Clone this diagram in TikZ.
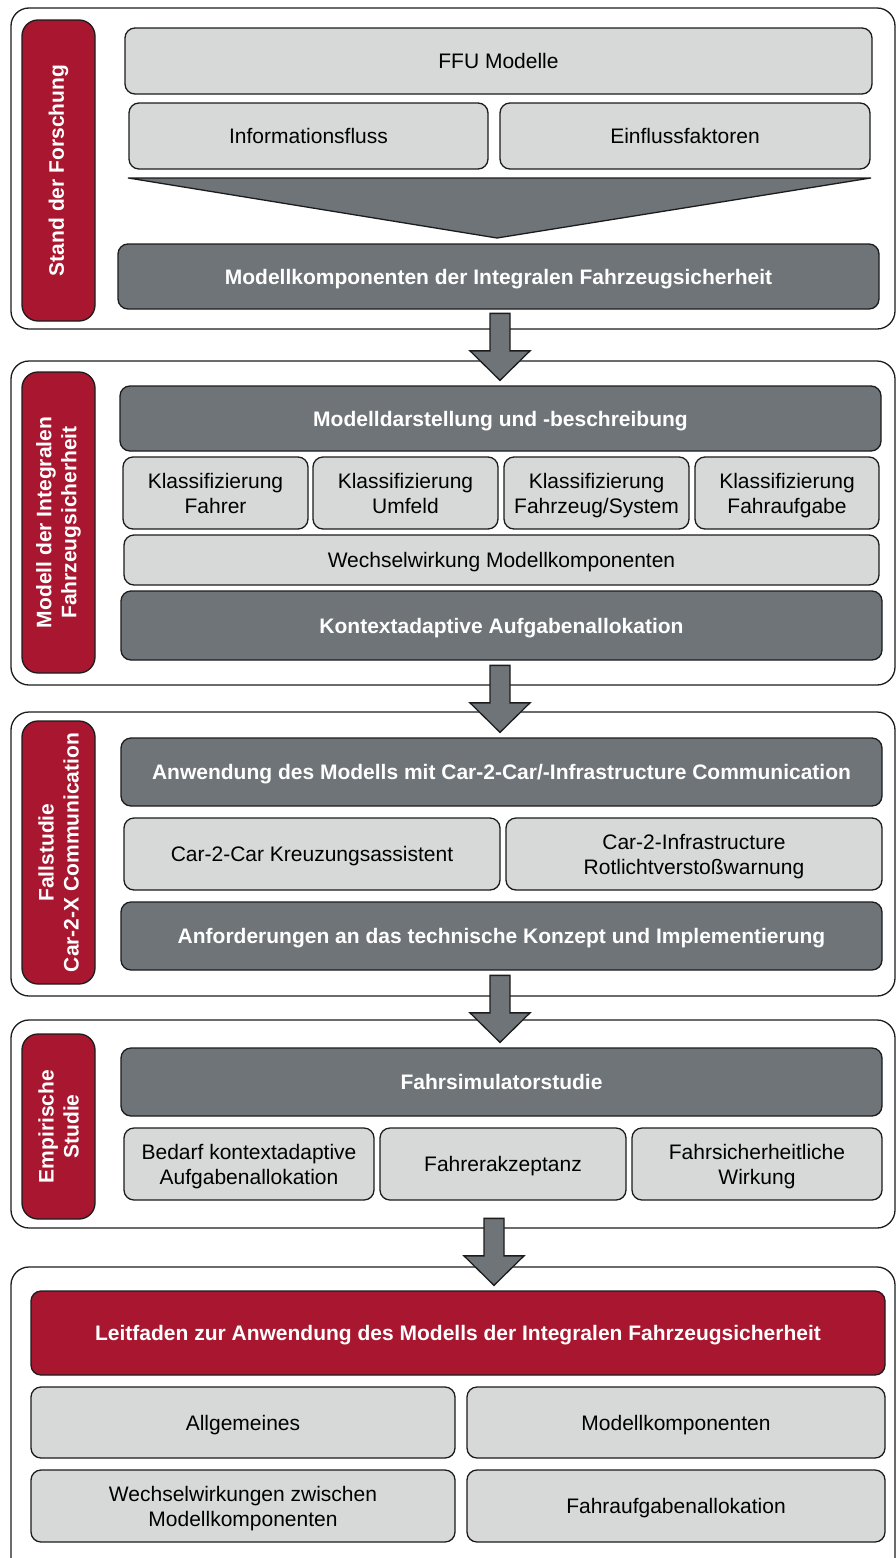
\documentclass[tikz,border=0pt]{standalone}
\usepackage{fontspec}
\setmainfont{Liberation Sans}
\usetikzlibrary{calc}

\definecolor{ifsred}{HTML}{A8162F}
\definecolor{ifsdark}{HTML}{6E7477}
\definecolor{ifslight}{HTML}{D6D9D8}
\definecolor{ifsline}{HTML}{1C1C1C}

\tikzset{
  base/.style={draw=ifsline, line width=1.3pt, rounded corners=10pt, inner sep=0pt,
    align=center, font=\fontsize{21}{25}\selectfont},
  lightbox/.style={base, text depth=0pt, fill=ifslight, text=black},
  darkbox/.style={base, text depth=0pt, fill=ifsdark, text=white, font=\bfseries\fontsize{21}{25}\selectfont},
  redbox/.style={base, text depth=0pt, fill=ifsred, text=white, font=\bfseries\fontsize{21}{25}\selectfont},
  sidelabel/.style={base, fill=ifsred, text=white, font=\bfseries\fontsize{21}{25}\selectfont,
    rounded corners=16pt, rotate=90},
  frame/.style={draw=ifsline, line width=1.3pt, rounded corners=18pt, fill=white, inner sep=0pt},
  funnel/.style={draw=ifsline, line width=1.3pt, fill=ifsdark, line join=round},
  blockarrow/.style={draw=ifsline, line width=1.3pt, fill=ifsdark, line join=miter},
}

% box from corner (x1,y1) to corner (x2,y2), y running downwards
\newcommand\bx[7]{\node[#1, minimum width={(#5-#3)*1pt}, minimum height={(#6-#4)*1pt}]
  (#2) at ({(#3+#5)/2},{(#4+#6)/2}) {#7};}
% rotated side label: same corners, width and height swapped
\newcommand\sidebx[6]{\node[sidelabel, minimum width={(#5-#3)*1pt}, minimum height={(#4-#2)*1pt}]
  (#1) at ({(#2+#4)/2},{(#3+#5)/2}) {#6};}
% block arrow whose tip sits just above the target node
\newcommand\flowarrow[3]{%
  \path (#2.north -| #1,0) ++(0,-5) coordinate (#3);
  \draw[blockarrow] (#3) -- ++(-30,-29.5) -- ++(20,0) -- ++(0,-37.5) -- ++(20,0)
    -- ++(0,37.5) -- ++(20,0) -- cycle;}

\begin{document}
\begin{tikzpicture}[x=1pt, y=-1pt]
\useasboundingbox (0,0) rectangle (896,1558);

% section frames
\bx{frame}{f1}{11}{8}{895}{329}{}
\bx{frame}{f2}{11}{361}{895}{685}{}
\bx{frame}{f3}{11}{712}{895}{996}{}
\bx{frame}{f4}{11}{1020}{895}{1228}{}
\bx{frame}{f5}{11}{1267}{895}{1590}{}

% Stand der Forschung
\sidebx{s1}{22}{20}{95}{321}{Stand der Forschung}
\bx{lightbox}{ffu}{125}{28}{872}{94}{FFU Modelle}
\bx{lightbox}{info}{129}{103}{488}{169}{Informationsfluss}
\bx{lightbox}{einf}{500}{103}{870}{169}{Einflussfaktoren}
\draw[funnel] (info.south west |- 0,178) coordinate (fl) -- (einf.south east |- 0,178) coordinate (fr)
  -- (497,238) coordinate (fapex) -- cycle;
\bx{darkbox}{mk}{118}{244}{879}{309}{Modellkomponenten der Integralen Fahrzeugsicherheit}

% Modell der Integralen Fahrzeugsicherheit
\sidebx{s2}{22}{372}{95}{673}{Modell der Integralen\\Fahrzeugsicherheit}
\bx{darkbox}{md}{120}{386}{881}{451}{Modelldarstellung und -beschreibung}
\bx{lightbox}{k1}{123}{457}{308}{529}{Klassifizierung\\Fahrer}
\bx{lightbox}{k2}{313}{457}{498}{529}{Klassifizierung\\Umfeld}
\bx{lightbox}{k3}{504}{457}{689}{529}{Klassifizierung\\Fahrzeug/System}
\bx{lightbox}{k4}{695}{457}{879}{529}{Klassifizierung\\Fahraufgabe}
\bx{lightbox}{ww}{124}{535}{879}{585}{Wechselwirkung Modellkomponenten}
\bx{darkbox}{ka}{121}{591}{882}{660}{Kontextadaptive Aufgabenallokation}

% Fallstudie Car-2-X Communication
\sidebx{s3}{22}{721}{95}{984}{Fallstudie\\Car-2-X Communication}
\bx{darkbox}{an}{121}{738}{882}{806}{Anwendung des Modells mit Car-2-Car/-Infrastructure Communication}
\bx{lightbox}{c2c}{124}{818}{500}{890}{Car-2-Car Kreuzungsassistent}
\bx{lightbox}{c2i}{506}{818}{882}{890}{Car-2-Infrastructure\\Rotlichtversto\ss warnung}
\bx{darkbox}{af}{121}{902}{882}{970}{Anforderungen an das technische Konzept und Implementierung}

% Empirische Studie
\sidebx{s4}{22}{1034}{95}{1219}{Empirische\\Studie}
\bx{darkbox}{fs}{121}{1048}{882}{1116}{Fahrsimulatorstudie}
\bx{lightbox}{bed}{124}{1128}{374}{1200}{Bedarf kontextadaptive\\Aufgabenallokation}
\bx{lightbox}{fak}{380}{1128}{626}{1200}{Fahrerakzeptanz}
\bx{lightbox}{fsw}{632}{1128}{882}{1200}{Fahrsicherheitliche\\Wirkung}

% Leitfaden
\bx{redbox}{lf}{31}{1291}{885}{1375}{Leitfaden zur Anwendung des Modells der Integralen Fahrzeugsicherheit}
\bx{lightbox}{allg}{31}{1387}{455}{1458}{Allgemeines}
\bx{lightbox}{modk}{467}{1387}{885}{1458}{Modellkomponenten}
\bx{lightbox}{ww2}{31}{1470}{455}{1542}{Wechselwirkungen zwischen\\Modellkomponenten}
\bx{lightbox}{fa}{467}{1470}{885}{1542}{Fahraufgabenallokation}

% flow between the sections
\flowarrow{500}{md}{t1}
\flowarrow{500}{an}{t2}
\flowarrow{500}{fs}{t3}
\flowarrow{494}{lf}{t4}
\end{tikzpicture}
\end{document}
